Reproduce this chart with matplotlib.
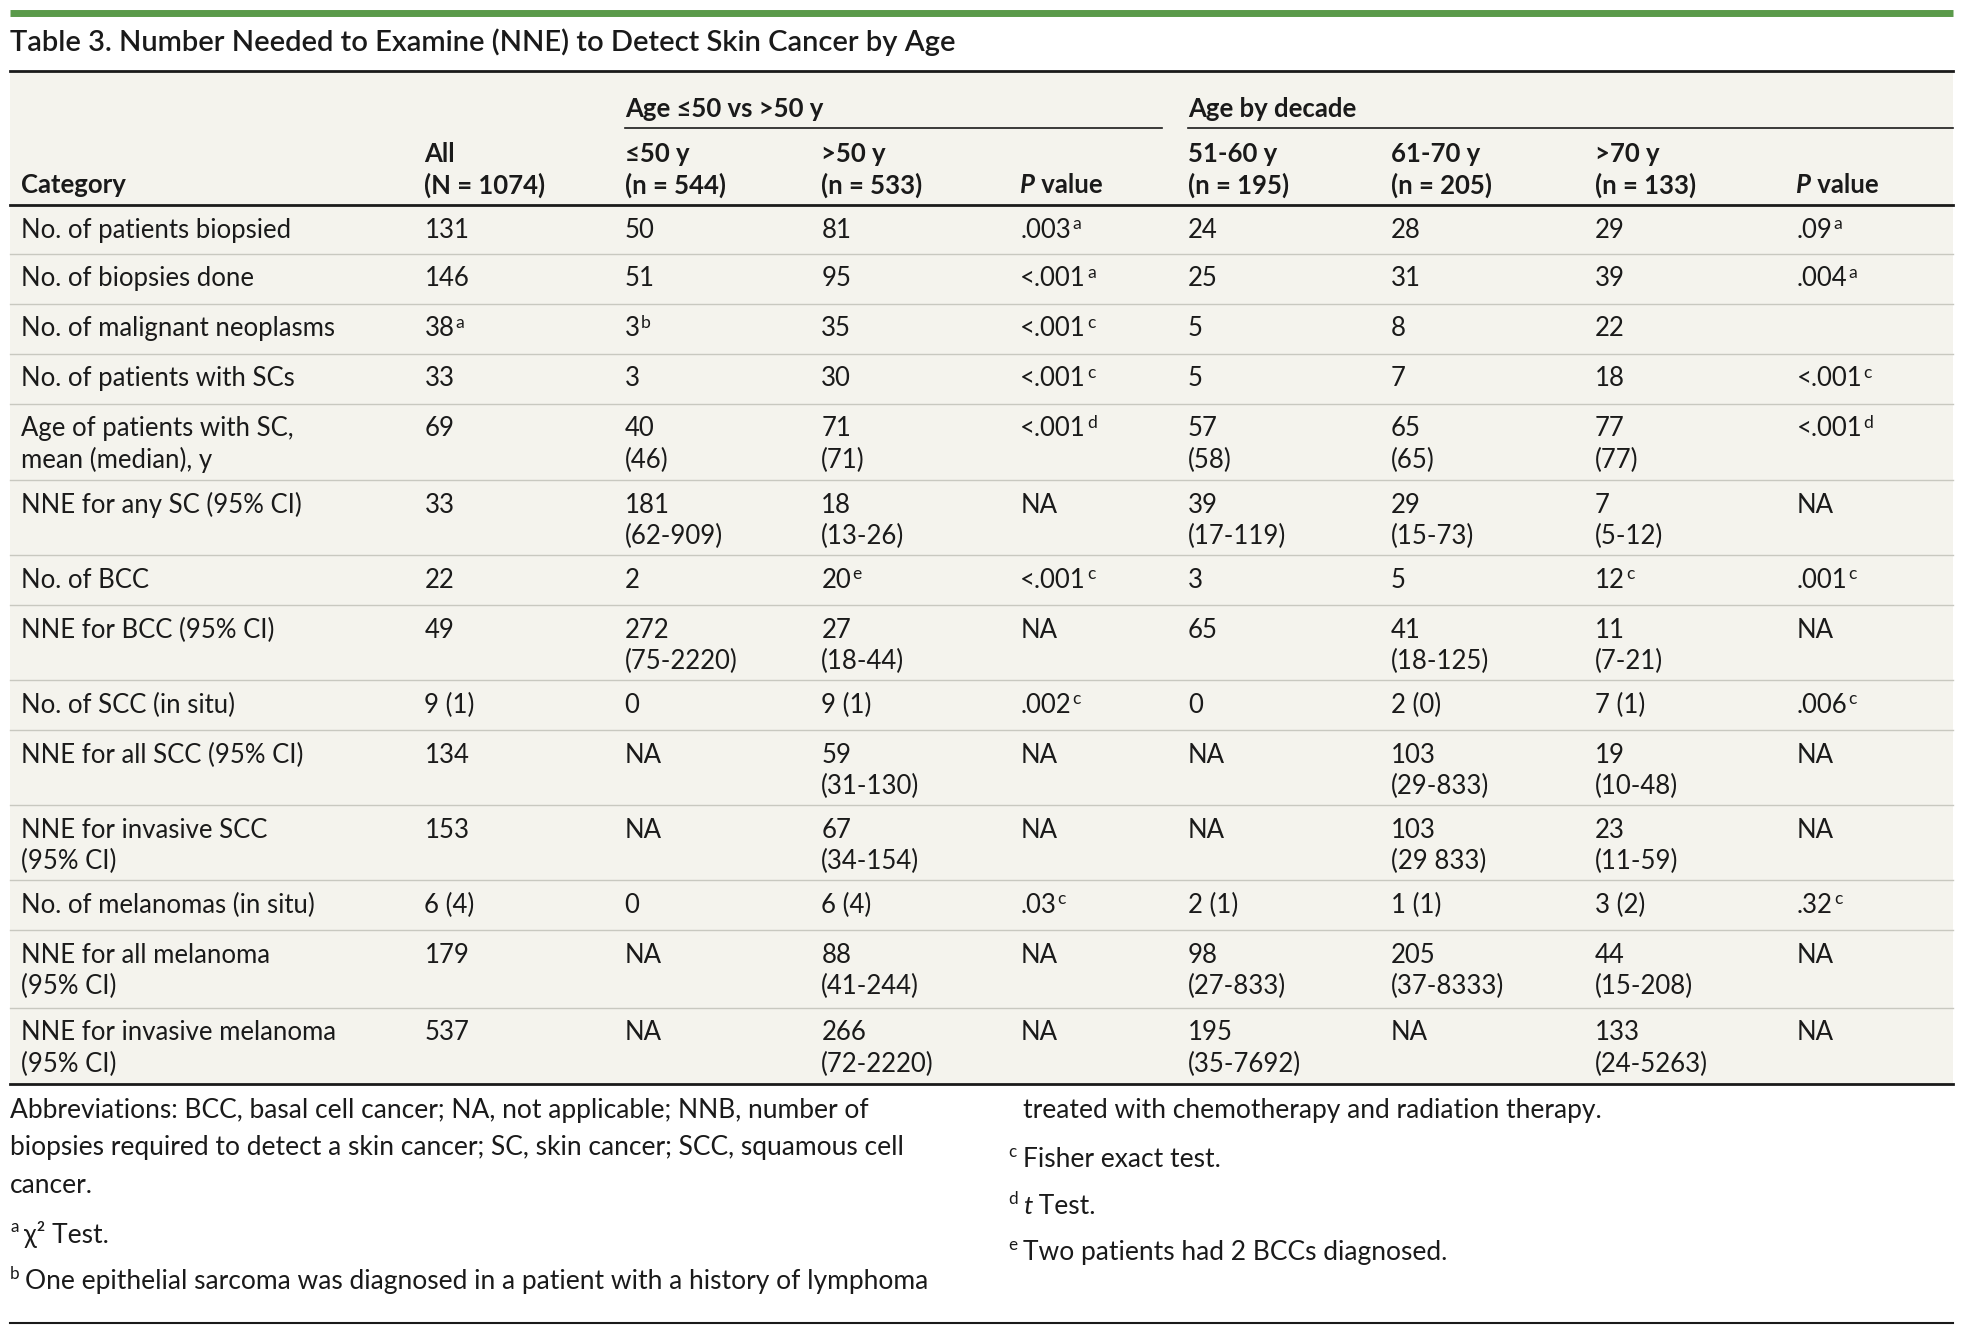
import matplotlib.pyplot as plt

W, H = 1568, 1066

columns_x = [17, 339, 499, 656, 815, 949, 1111, 1274, 1435]
header_top = ["All", "≤50 y", ">50 y", "", "51-60 y", "61-70 y", ">70 y", ""]
header_bot = ["(N = 1074)", "(n = 544)", "(n = 533)", "P| value", "(n = 195)", "(n = 205)", "(n = 133)", "P| value"]

categories = ["No. of patients biopsied", "No. of biopsies done", "No. of malignant neoplasms",
              "No. of patients with SCs", "Age of patients with SC,\nmean (median), y",
              "NNE for any SC (95% CI)", "No. of BCC", "NNE for BCC (95% CI)",
              "No. of SCC (in situ)", "NNE for all SCC (95% CI)", "NNE for invasive SCC\n(95% CI)",
              "No. of melanomas (in situ)", "NNE for all melanoma\n(95% CI)",
              "NNE for invasive melanoma\n(95% CI)"]
all_col = ["131", "146", "38^a", "33", "69", "33", "22", "49", "9 (1)", "134", "153", "6 (4)", "179", "537"]
le50 = ["50", "51", "3^b", "3", "40\n(46)", "181\n(62-909)", "2", "272\n(75-2220)", "0", "NA", "NA", "0", "NA", "NA"]
gt50 = ["81", "95", "35", "30", "71\n(71)", "18\n(13-26)", "20^e", "27\n(18-44)", "9 (1)",
        "59\n(31-130)", "67\n(34-154)", "6 (4)", "88\n(41-244)", "266\n(72-2220)"]
p_50 = [".003^a", "<.001^a", "<.001^c", "<.001^c", "<.001^d", "NA", "<.001^c", "NA", ".002^c",
        "NA", "NA", ".03^c", "NA", "NA"]
d51_60 = ["24", "25", "5", "5", "57\n(58)", "39\n(17-119)", "3", "65", "0", "NA", "NA", "2 (1)",
          "98\n(27-833)", "195\n(35-7692)"]
d61_70 = ["28", "31", "8", "7", "65\n(65)", "29\n(15-73)", "5", "41\n(18-125)", "2 (0)",
          "103\n(29-833)", "103\n(29 833)", "1 (1)", "205\n(37-8333)", "NA"]
d70 = ["29", "39", "22", "18", "77\n(77)", "7\n(5-12)", "12^c", "11\n(7-21)", "7 (1)",
       "19\n(10-48)", "23\n(11-59)", "3 (2)", "44\n(15-208)", "133\n(24-5263)"]
p_dec = [".09^a", ".004^a", "", "<.001^c", "<.001^d", "NA", ".001^c", "NA", ".006^c",
         "NA", "NA", ".32^c", "NA", "NA"]
row_edges = [164, 203, 243, 283, 323, 384, 444, 484, 544, 584, 644, 704, 744, 806, 867]

plt.rcParams['font.family'] = ['Lato', 'DejaVu Sans']
fig = plt.figure(figsize=(19.63, 13.33), dpi=100)
ax = fig.add_axes([0, 0, 1, 1])
ax.set_xlim(0, W)
ax.set_ylim(H, 0)
ax.axis('off')

FS = 18.5
INK = '#1a1a1a'


def put(x, y, s, bold=False, fs=FS, color=INK):
    # "^x" suffix -> superscript, "P|" prefix -> italic letter
    lines = s.split("\n")
    for i, line in enumerate(lines):
        yy = y + i * 25
        sup = None
        if "^" in line:
            line, sup = line.split("^")
        w = 'bold' if bold else 'normal'
        if line.startswith("P|"):
            t = ax.text(x, yy, "P", fontsize=fs, fontweight=w, style='italic', color=color, va='center')
            t = ax.annotate(line[2:], xy=(1, 0.5), xycoords=t, va='center', fontsize=fs,
                            fontweight=w, color=color)
        else:
            t = ax.text(x, yy, line, fontsize=fs, fontweight=w, color=color, va='center')
        if sup:
            ax.annotate(sup, xy=(1, 1), xycoords=t, xytext=(1, 1), textcoords='offset points',
                        va='top', fontsize=fs * 0.68, color=color)


# top green rule and title
ax.plot([8, 1560], [10, 10], color='#5a9a4a', lw=5, solid_capstyle='butt')
ax.text(8, 34, "Table 3. Number Needed to Examine (NNE) to Detect Skin Cancer by Age",
        fontsize=21, color=INK, va='center', fontweight='semibold')

# table background
ax.fill_between([8, 1560], 57, 867, color='#f4f3ed', lw=0)
ax.plot([8, 1560], [57, 57], color=INK, lw=2)
ax.plot([8, 1560], [164, 164], color=INK, lw=2)
ax.plot([8, 1560], [867, 867], color=INK, lw=2)
for y in row_edges[1:-1]:
    ax.plot([8, 1560], [y, y], color='#c8c8c0', lw=1)

# header
put(499, 87, "Age ≤50 vs >50 y", bold=True)
ax.plot([499, 928], [102, 102], color=INK, lw=1.2)
put(949, 87, "Age by decade", bold=True)
ax.plot([949, 1560], [102, 102], color=INK, lw=1.2)
put(columns_x[0], 148, "Category", bold=True)
for x, top, bot in zip(columns_x[1:], header_top, header_bot):
    if top:
        put(x, 123, top, bold=True)
    put(x, 148, bot, bold=True)

# body
cols = [categories, all_col, le50, gt50, p_50, d51_60, d61_70, d70, p_dec]
for r in range(len(categories)):
    y = row_edges[r] + 20
    for x, col in zip(columns_x, cols):
        if col[r]:
            put(x, y, col[r])

# footnotes
FN = 19
put(8, 888, "Abbreviations: BCC, basal cell cancer; NA, not applicable; NNB, number of", fs=FN)
put(8, 918, "biopsies required to detect a skin cancer; SC, skin cancer; SCC, squamous cell", fs=FN)
put(8, 948, "cancer.", fs=FN)
ax.text(8, 981, "a", fontsize=FN * 0.65, color=INK, va='center')
put(19, 987, "χ² Test.", fs=FN)
ax.text(8, 1019, "b", fontsize=FN * 0.65, color=INK, va='center')
put(20, 1025, "One epithelial sarcoma was diagnosed in a patient with a history of lymphoma", fs=FN)
put(817, 888, "treated with chemotherapy and radiation therapy.", fs=FN)
ax.text(805, 921, "c", fontsize=FN * 0.65, color=INK, va='center')
put(817, 927, "Fisher exact test.", fs=FN)
ax.text(805, 959, "d", fontsize=FN * 0.65, color=INK, va='center')
t = ax.text(817, 965, "t", fontsize=FN, style='italic', color=INK, va='center')
ax.annotate(" Test.", xy=(1, 0.5), xycoords=t, va='center', fontsize=FN, color=INK)
ax.text(805, 996, "e", fontsize=FN * 0.65, color=INK, va='center')
put(817, 1002, "Two patients had 2 BCCs diagnosed.", fs=FN)
ax.plot([8, 1560], [1058, 1058], color=INK, lw=1.5)

fig.savefig("out.png", dpi=100)
